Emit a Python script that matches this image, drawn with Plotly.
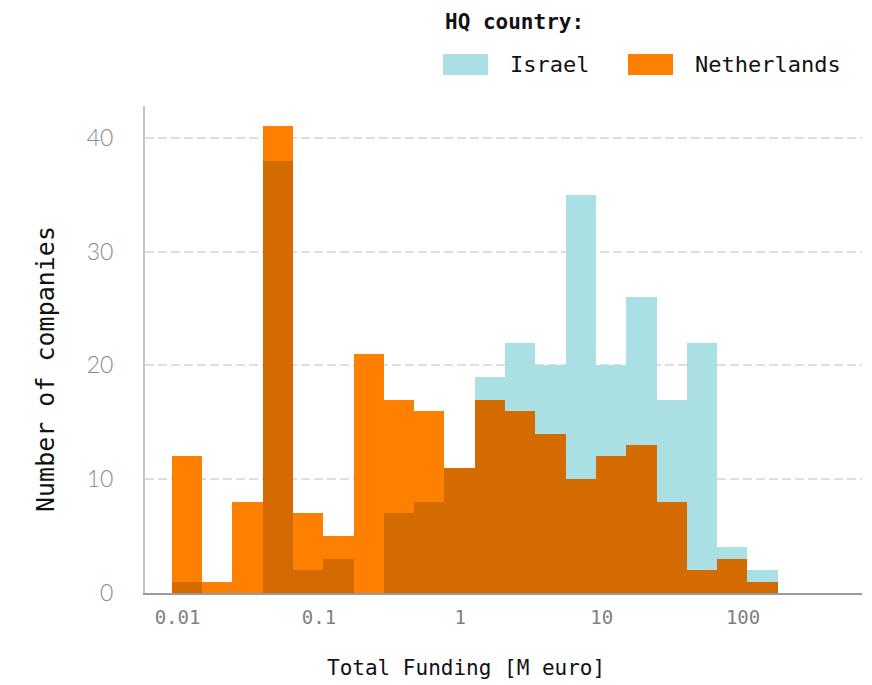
import numpy as np
import plotly.graph_objects as go

# Companies per funding bin (20 equal-width bins on a log10 scale, M euro)
bin_start_log10 = -2.041   # log10 of the lowest bin edge
bin_width_log10 = 0.2143   # bin width in decades
israel = [1, 0, 0, 38, 2, 3, 0, 7, 8, 11, 19, 22, 20, 35, 20, 26, 17, 22, 4, 2]
netherlands = [12, 1, 8, 41, 7, 5, 21, 17, 16, 11, 17, 16, 14, 10, 12, 13, 8, 2, 3, 1]

tick_values = [0.01, 0.1, 1, 10, 100]
tick_labels = ["0.01", "0.1", "1", "10", "100"]
y_ticks = [0, 10, 20, 30, 40]

COL_IL = "#aae0e3"
COL_NL = "#ff8000"
COL_BOTH = "#d36b00"
MONO = "DejaVu Sans Mono"

n_bins = len(israel)
centers = bin_start_log10 + bin_width_log10 * (np.arange(n_bins) + 0.5)
both = np.minimum(israel, netherlands)

fig = go.Figure()
for name, vals, col in [("Israel", israel, COL_IL),
                        ("Netherlands", netherlands, COL_NL),
                        ("both", both, COL_BOTH)]:
    fig.add_trace(go.Bar(
        x=centers, y=vals, width=bin_width_log10, name=name,
        marker=dict(color=col, line=dict(width=0)),
        showlegend=False, hoverinfo="skip",
    ))

W, H = 872, 685
L, R, T, B = 145, 10, 106, 92
pw, ph = W - L - R, H - T - B


def px(x):
    return (x - L) / pw


def py(y):
    return (H - B - y) / ph


fig.update_layout(
    width=W, height=H,
    margin=dict(l=L, r=R, t=T, b=B),
    paper_bgcolor="white", plot_bgcolor="white",
    barmode="overlay", bargap=0,
    xaxis=dict(
        range=[-2.230, 2.841],
        tickvals=np.log10(tick_values), ticktext=tick_labels,
        showgrid=False, zeroline=False, ticks="",
        showline=True, linecolor="#9a9a9a", linewidth=2,
        tickfont=dict(family=MONO, size=19, color="#808080"),
        ticklabelstandoff=6,
    ),
    yaxis=dict(
        range=[0, 42.8], tickvals=y_ticks,
        showgrid=True, gridcolor="#dedede", gridwidth=2, griddash="9px,4px",
        zeroline=False, ticks="",
        showline=True, linecolor="#c4c4c4", linewidth=2,
        tickfont=dict(family="Lato", size=23, color="#8a8a8a", weight=300),
        ticklabelstandoff=25,
    ),
    font=dict(family=MONO, color="#111111"),
)


def label(text, x, y, size, xanchor="center", angle=0):
    fig.add_annotation(text=text, xref="paper", yref="paper",
                       x=px(x), y=py(y), xanchor=xanchor, yanchor="middle",
                       showarrow=False, textangle=angle,
                       font=dict(family=MONO, size=size, color="#111111"))


# axis titles
label("Total Funding [M euro]", 466, 668, 21)
label("Number of companies", 45, 369, 25, angle=-90)

# legend
label("<b>HQ country:</b>", 443, 22, 21, xanchor="left")
for name, col, x0, tx in [("Israel", COL_IL, 443, 508),
                          ("Netherlands", COL_NL, 628, 693)]:
    fig.add_shape(type="rect", xref="paper", yref="paper",
                  x0=px(x0), x1=px(x0 + 45), y0=py(75), y1=py(54),
                  fillcolor=col, line=dict(width=0))
    label(name, tx, 65, 22, xanchor="left")

fig.write_html("out.html")
